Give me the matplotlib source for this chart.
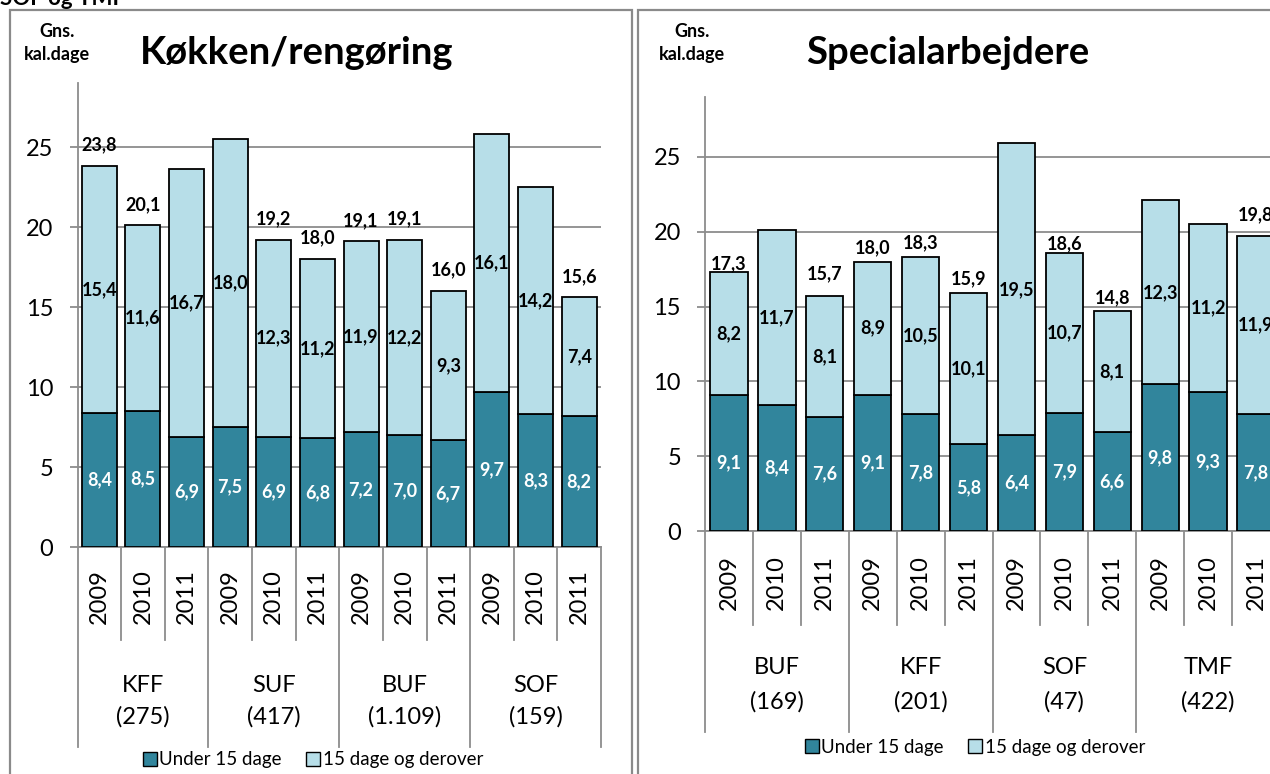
import matplotlib
matplotlib.use("Agg")
import matplotlib.pyplot as plt
from matplotlib.patches import Patch, Rectangle
from matplotlib.transforms import blended_transform_factory

plt.rcParams['font.family'] = ['Lato', 'DejaVu Sans']

W, H = 1270, 774

years = ["2009", "2010", "2011"]

# Køkken/rengøring
k_groups = ["KFF", "SUF", "BUF", "SOF"]
k_counts = ["(275)", "(417)", "(1.109)", "(159)"]
k_under = [8.4, 8.5, 6.9, 7.5, 6.9, 6.8, 7.2, 7.0, 6.7, 9.7, 8.3, 8.2]
k_over = [15.4, 11.6, 16.7, 18.0, 12.3, 11.2, 11.9, 12.2, 9.3, 16.1, 14.2, 7.4]
k_totals = [23.8, 20.1, None, None, 19.2, 18.0, 19.1, 19.1, 16.0, None, None, 15.6]

# Specialarbejdere
s_groups = ["BUF", "KFF", "SOF", "TMF"]
s_counts = ["(169)", "(201)", "(47)", "(422)"]
s_under = [9.1, 8.4, 7.6, 9.1, 7.8, 5.8, 6.4, 7.9, 6.6, 9.8, 9.3, 7.8]
s_over = [8.2, 11.7, 8.1, 8.9, 10.5, 10.1, 19.5, 10.7, 8.1, 12.3, 11.2, 11.9]
s_totals = [17.3, None, 15.7, 18.0, 18.3, 15.9, None, 18.6, 14.8, None, None, 19.8]

legend_labels = ["Under 15 dage", "15 dage og derover"]

DARK = "#31859C"
LIGHT = "#B7DEE8"
GRID = "#8C8C8C"
FRAME = "#8A8A8A"


def fx(px):
    return px / W


def fy(px):
    return 1 - px / H


def fmt(v):
    return f"{v:.1f}".replace(".", ",")


def draw_panel(ax, under, over, totals, groups, counts, bar_w, lifts, lay):
    x = list(range(len(under)))
    ax.bar(x, under, bar_w, color=DARK, edgecolor="black", linewidth=1.3, zorder=3)
    ax.bar(x, over, bar_w, bottom=under, color=LIGHT, edgecolor="black", linewidth=1.3, zorder=3)

    for i in x:
        ax.text(i, under[i] / 2, fmt(under[i]), ha="center", va="center",
                color="white", fontsize=13, fontweight="bold", zorder=4)
        ax.text(i, under[i] + over[i] / 2, fmt(over[i]), ha="center", va="center",
                color="black", fontsize=13, fontweight="bold", zorder=4)
        if totals[i] is not None:
            ax.annotate(fmt(totals[i]), (i, under[i] + over[i]),
                        xytext=(0, lifts[i] * 0.72), textcoords="offset points",
                        ha="center", va="center", fontsize=13, fontweight="bold",
                        annotation_clip=False, zorder=4)

    ax.set_xlim(-0.5, len(x) - 0.5)
    ax.set_ylim(0, 29)
    ax.set_yticks(range(0, 30, 5))
    ax.set_xticks([])
    ax.yaxis.grid(True, color=GRID, linewidth=1.3)
    ax.set_axisbelow(True)
    for side in ("top", "right"):
        ax.spines[side].set_visible(False)
    for side in ("left", "bottom"):
        ax.spines[side].set_color(GRID)
        ax.spines[side].set_linewidth(1.3)
    ax.tick_params(axis="y", length=5.8, width=1.3, color=GRID, pad=11.5, labelsize=17)

    tr = blended_transform_factory(ax.transData, fig.transFigure)
    axis_y = fy(lay["axis"])
    for b in range(len(x) + 1):
        end = lay["grp_sep"] if b % 3 == 0 else lay["yr_sep"]
        ax.plot([b - 0.5, b - 0.5], [axis_y, fy(end)], transform=tr, color=GRID,
                linewidth=1.3, clip_on=False)
    for i in x:
        ax.text(i, fy(lay["yr"]), years[i % 3], transform=tr, rotation=90,
                ha="center", va="center", fontsize=17)
    for g in range(len(groups)):
        cx = g * 3 + 1
        ax.text(cx, fy(lay["grp"]), groups[g], transform=tr, ha="center",
                va="center", fontsize=17)
        ax.text(cx, fy(lay["cnt"]), counts[g], transform=tr, ha="center",
                va="center", fontsize=17)


fig = plt.figure(figsize=(W / 100, H / 100), dpi=100)

# panel frames
fig.add_artist(Rectangle((fx(10), fy(820)), fx(632) - fx(10), fy(10) - fy(820),
                         transform=fig.transFigure, fill=False, edgecolor=FRAME, linewidth=1.6))
fig.add_artist(Rectangle((fx(638), fy(820)), fx(1320) - fx(638), fy(10) - fy(820),
                         transform=fig.transFigure, fill=False, edgecolor=FRAME, linewidth=1.6))

# heading that is cut off at the top edge in the reference
fig.text(fx(0), fy(5), "SOF og TMF", fontsize=16, fontweight="bold", va="baseline", ha="left")

ax1 = fig.add_axes([fx(77.5), fy(547), fx(601) - fx(77.5), fy(83) - fy(547)])
ax2 = fig.add_axes([fx(705), fy(531), fx(1280) - fx(705), fy(97) - fy(531)])

k_lifts = [21] * 12
s_lifts = [8, 0, 22, 14, 14, 14, 0, 9, 13, 0, 0, 21]

draw_panel(ax1, k_under, k_over, k_totals, k_groups, k_counts, 0.8, k_lifts,
           dict(axis=547, yr_sep=640, grp_sep=747, yr=597, grp=685, cnt=717))
draw_panel(ax2, s_under, s_over, s_totals, s_groups, s_counts, 0.78, s_lifts,
           dict(axis=531, yr_sep=625, grp_sep=732, yr=583, grp=668, cnt=702))

# titles and y captions
fig.text(fx(297), fy(64), "Køkken/rengøring", ha="center", va="baseline",
         fontsize=27.5, fontweight="bold")
fig.text(fx(948), fy(64), "Specialarbejdere", ha="center", va="baseline",
         fontsize=27.5, fontweight="bold")
for cx in (57, 692):
    fig.text(fx(cx), fy(37), "Gns.", ha="center", va="baseline", fontsize=13, fontweight="bold")
    fig.text(fx(cx), fy(60), "kal.dage", ha="center", va="baseline", fontsize=13, fontweight="bold")

handles = [Patch(facecolor=DARK, edgecolor="black", linewidth=1.0),
           Patch(facecolor=LIGHT, edgecolor="black", linewidth=1.0)]
for cx, cy in ((313, 760), (975, 747)):
    fig.legend(handles, legend_labels, loc="center", bbox_to_anchor=(fx(cx), fy(cy)),
               ncol=2, frameon=False, fontsize=13.5, handlelength=0.75, handleheight=0.75,
               handletextpad=0.15, columnspacing=1.3, borderpad=0, borderaxespad=0)

fig.savefig("out.png", dpi=100)
